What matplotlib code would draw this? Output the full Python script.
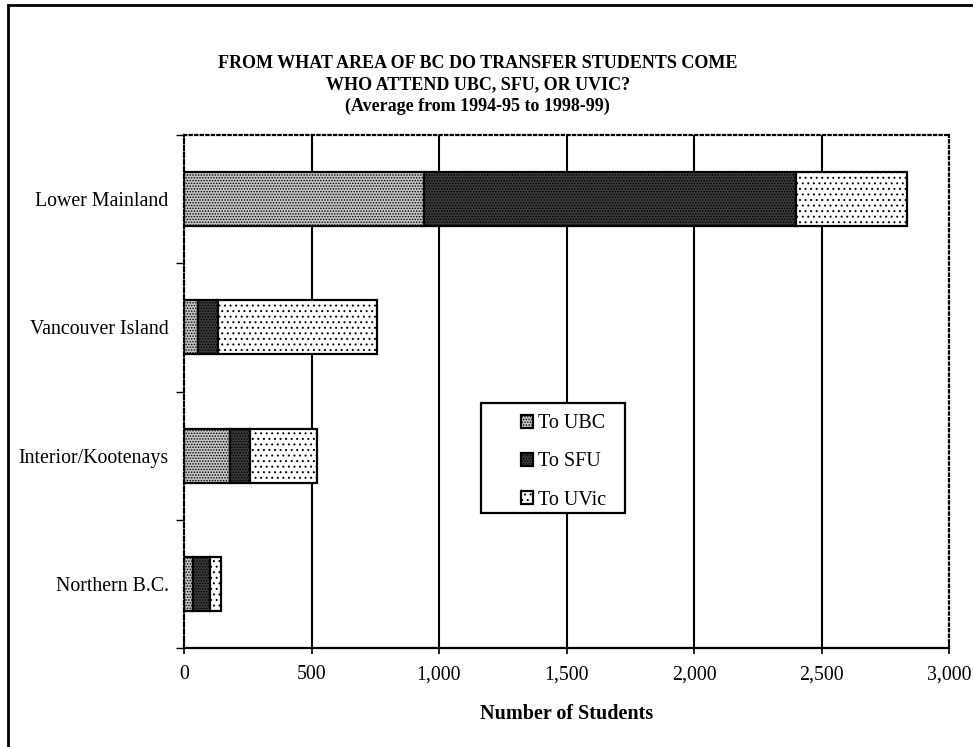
import matplotlib
matplotlib.use("Agg")
import matplotlib.pyplot as plt
from matplotlib.patches import Rectangle

# data (average number of transfer students)
regions = ["Lower Mainland", "Vancouver Island", "Interior/Kootenays", "Northern B.C."]
to_ubc = [940, 55, 180, 35]
to_sfu = [1460, 78, 79, 67]
to_uvic = [435, 622, 263, 43]
series_names = ["To UBC", "To SFU", "To UVic"]
x_ticks = [0, 500, 1000, 1500, 2000, 2500, 3000]

plt.rcParams['font.family'] = ['Liberation Serif', 'DejaVu Serif']
plt.rcParams['hatch.linewidth'] = 0.7

fig = plt.figure(figsize=(9.73, 7.47), dpi=100)
W, H = 973.0, 747.0

# outer frame of the page
fig.patches.append(Rectangle((8 / W, -0.05), 1.1, 1 - 5 / H + 0.05,
                             transform=fig.transFigure, fill=False,
                             edgecolor='black', linewidth=2.0))

ax_l, ax_r, ax_t, ax_b = 184, 949, 135, 648
ax = fig.add_axes([ax_l / W, (H - ax_b) / H, (ax_r - ax_l) / W, (ax_b - ax_t) / H])

ypos = [3, 2, 1, 0]
styles = [
    dict(facecolor='#c4c4c4', hatch='......'),
    dict(facecolor='#3a3a3a', hatch='......'),
    dict(facecolor='white', hatch='...'),
]
left = [0, 0, 0, 0]
handles = []
for name, vals, st in zip(series_names, [to_ubc, to_sfu, to_uvic], styles):
    b = ax.barh(ypos, vals, left=left, height=0.42, edgecolor='black',
                linewidth=1.6, label=name, zorder=3, **st)
    handles.append(b)
    left = [l + v for l, v in zip(left, vals)]

ax.set_xlim(0, 3000)
ax.set_ylim(-0.5, 3.5)

# vertical gridlines, not at the axis ends
ax.vlines(x_ticks[1:-1], -0.5, 3.5, colors='black', linewidth=1.5, zorder=1)

ax.set_xticks(x_ticks)
ax.set_xticklabels(["{:,}".format(t) for t in x_ticks], fontsize=14.3)
ax.tick_params(axis='x', direction='inout', length=9, width=1.2, pad=8)

ax.set_yticks([-0.5, 0.5, 1.5, 2.5, 3.5])
ax.set_yticklabels([])
ax.set_yticks(ypos, minor=True)
ax.set_yticklabels(regions, minor=True, fontsize=14.3)
ax.tick_params(axis='y', which='major', direction='out', length=6, width=1.0)
ax.tick_params(axis='y', which='minor', length=0, pad=11)

ax.spines['bottom'].set_linewidth(1.6)
ax.spines['left'].set_linestyle((0, (2, 1.2)))
ax.spines['left'].set_linewidth(1.6)
for s in ['top', 'right']:
    ax.spines[s].set_linestyle((0, (1, 1.5)))
    ax.spines[s].set_linewidth(1.6)

ax.set_xlabel("Number of Students", fontsize=14.5, fontweight='bold', labelpad=14)

title_lines = ["FROM WHAT AREA OF BC DO TRANSFER STUDENTS COME",
               "WHO ATTEND UBC, SFU, OR UVIC?",
               "(Average from 1994-95 to 1998-99)"]
for i, line in enumerate(title_lines):
    fig.text(0.491, 1 - (63 + 21.5 * i) / H, line, ha='center', va='center',
             fontsize=13, fontweight='bold')

# legend box drawn as its own frame (wider on the left than the entries need)
def ax_x(px):
    return (px - ax_l) / (ax_r - ax_l)

def ax_y(py):
    return (ax_b - py) / (ax_b - ax_t)

ax.add_patch(Rectangle((ax_x(481), ax_y(513)), ax_x(625) - ax_x(481), ax_y(403) - ax_y(513),
                       transform=ax.transAxes, facecolor='white', edgecolor='black',
                       linewidth=1.6, zorder=4))
leg = ax.legend(handles=handles, loc='center',
                bbox_to_anchor=(ax_x(564), ax_y(462)),
                fontsize=14.5, frameon=False,
                handlelength=0.6, handleheight=0.6, handletextpad=0.25,
                labelspacing=0.95, borderpad=0, borderaxespad=0)
leg.set_zorder(5)

fig.savefig("out.png", dpi=100)
